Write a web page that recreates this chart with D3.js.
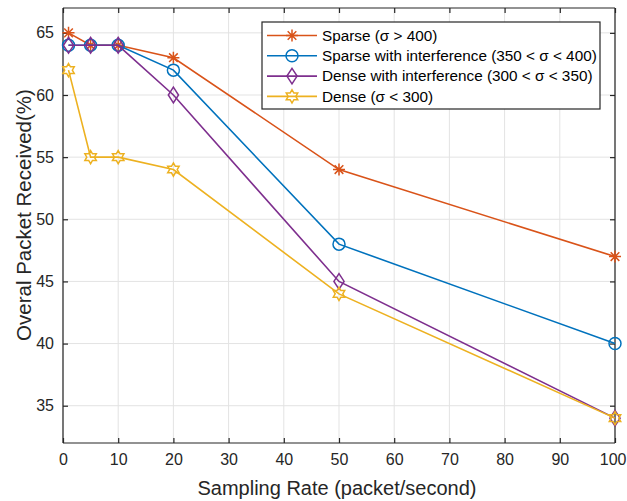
<!DOCTYPE html>
<html><head><meta charset="utf-8">
<script src="https://cdn.jsdelivr.net/npm/d3@7"></script>
<style>body{margin:0;background:#fff}svg{display:block}text{font-family:"Liberation Sans",Arial,Helvetica,sans-serif}</style>
</head><body><svg id="c" width="627" height="501"></svg>
<script>
const xValues = [1, 5, 10, 20, 50, 100];
const sparse = [65, 64, 64, 63, 54, 47];
const sparseInterf = [64, 64, 64, 62, 48, 40];
const denseInterf = [64, 64, 64, 60, 45, 34];
const dense = [62, 55, 55, 54, 44, 34];
const seriesNames = ["Sparse (σ > 400)", "Sparse with interference (350 < σ < 400)", "Dense with interference (300 < σ < 350)", "Dense (σ < 300)"];
const xTicks = [0,10,20,30,40,50,60,70,80,90,100];
const yTicks = [35,40,45,50,55,60,65];

const colors = ["#D95319", "#0072BD", "#7E2F8E", "#EDB120"];
const markers = ["asterisk", "circle", "diamond", "hexagram"];
const allSeries = [sparse, sparseInterf, denseInterf, dense];

const svg = d3.select("#c");
const L = 63, R = 615, T = 8, B = 443;
const x = d3.scaleLinear().domain([0, 100]).range([L, R]);
const y = d3.scaleLinear().domain([32, 67]).range([B, T]);
const axisCol = "#262626";

// grid
const g = svg.append("g");
g.selectAll(".gx").data(xTicks).join("line").attr("x1", d=>x(d)).attr("x2", d=>x(d)).attr("y1", T).attr("y2", B).attr("stroke", "#e3e3e3").attr("stroke-width", 1);
g.selectAll(".gy").data(yTicks).join("line").attr("y1", d=>y(d)).attr("y2", d=>y(d)).attr("x1", L).attr("x2", R).attr("stroke", "#e3e3e3").attr("stroke-width", 1);

// axes
const ax = svg.append("g").attr("transform", `translate(0,${B})`).call(d3.axisBottom(x).tickValues(xTicks).tickSize(-5).tickPadding(11));
const axT = svg.append("g").attr("transform", `translate(0,${T})`).call(d3.axisTop(x).tickValues(xTicks).tickSize(-5).tickFormat(""));
const ay = svg.append("g").attr("transform", `translate(${L},0)`).call(d3.axisLeft(y).tickValues(yTicks).tickSize(-5).tickPadding(9));
const ayR = svg.append("g").attr("transform", `translate(${R},0)`).call(d3.axisRight(y).tickValues(yTicks).tickSize(-5).tickFormat(""));
[ax, axT, ay, ayR].forEach(a => {
  a.select(".domain").attr("stroke", axisCol).attr("stroke-width", 1.2);
  a.selectAll(".tick line").attr("stroke", axisCol).attr("stroke-width", 1.2);
  a.selectAll(".tick text").attr("fill", "#262626").style("font-size", "16px").style("font-family", '"Liberation Sans",Arial,sans-serif');
});
// keep the last x label inside the window
ax.selectAll(".tick text").filter(d => d === 100).attr("text-anchor", "end").attr("x", 11);
ax.select(".domain").attr("d", `M${L},0H${R}`);
axT.select(".domain").attr("d", `M${L},0H${R}`);
ay.select(".domain").attr("d", `M0,${T}V${B}`);
ayR.select(".domain").attr("d", `M0,${T}V${B}`);

function markerPath(type, s) {
  const p = d3.path();
  if (type === "asterisk") {
    p.moveTo(-s,0); p.lineTo(s,0); p.moveTo(0,-s); p.lineTo(0,s);
    const k = s*0.72; p.moveTo(-k,-k); p.lineTo(k,k); p.moveTo(-k,k); p.lineTo(k,-k);
  } else if (type === "circle") {
    p.moveTo(s,0); p.arc(0,0,s,0,2*Math.PI);
  } else if (type === "diamond") {
    p.moveTo(0,-s*1.3); p.lineTo(s*0.85,0); p.lineTo(0,s*1.3); p.lineTo(-s*0.85,0); p.closePath();
  } else if (type === "hexagram") {
    const ro = s*1.1, ri = ro/Math.sqrt(3);
    for (let i = 0; i < 12; i++) {
      const a = -Math.PI/2 + i*Math.PI/6;
      const r = i%2===0 ? ro : ri;
      if (i===0) p.moveTo(r*Math.cos(a), r*Math.sin(a)); else p.lineTo(r*Math.cos(a), r*Math.sin(a));
    }
    p.closePath();
  }
  return p.toString();
}

const line = d3.line().x(d=>x(d[0])).y(d=>y(d[1]));
allSeries.forEach((vals, i) => {
  const pts = xValues.map((xv, j) => [xv, vals[j]]);
  svg.append("path").attr("d", line(pts)).attr("fill", "none").attr("stroke", colors[i]).attr("stroke-width", 1.6);
  svg.selectAll(null).data(pts).join("path")
    .attr("transform", d => `translate(${x(d[0])},${y(d[1])})`)
    .attr("d", markerPath(markers[i], 6))
    .attr("fill", "none").attr("stroke", colors[i]).attr("stroke-width", 1.5);
});

// legend
const lg = svg.append("g");
const lx = 262, ly = 22, lw = 338, lh = 87;
lg.append("rect").attr("x", lx).attr("y", ly).attr("width", lw).attr("height", lh).attr("fill", "#fff").attr("stroke", axisCol).attr("stroke-width", 1.2);
seriesNames.forEach((name, i) => {
  const yy = ly + 13.5 + i*20.3;
  lg.append("line").attr("x1", lx+5).attr("x2", lx+55).attr("y1", yy).attr("y2", yy).attr("stroke", colors[i]).attr("stroke-width", 1.6);
  lg.append("path").attr("transform", `translate(${lx+30},${yy})`).attr("d", markerPath(markers[i], 6)).attr("fill", "none").attr("stroke", colors[i]).attr("stroke-width", 1.5);
  lg.append("text").attr("x", lx+60).attr("y", yy).attr("dy", "0.35em").attr("fill", "#000").style("font-size", "15.3px").text(name);
});

// axis labels
svg.append("text").attr("x", 337).attr("y", 495).attr("text-anchor", "middle").style("font-size", "20px").attr("fill", "#262626").text("Sampling Rate (packet/second)");
svg.append("text").attr("transform", `translate(31,215) rotate(-90)`).attr("text-anchor", "middle").style("font-size", "20.5px").attr("fill", "#262626").text("Overal Packet Received(%)");
</script></body></html>
